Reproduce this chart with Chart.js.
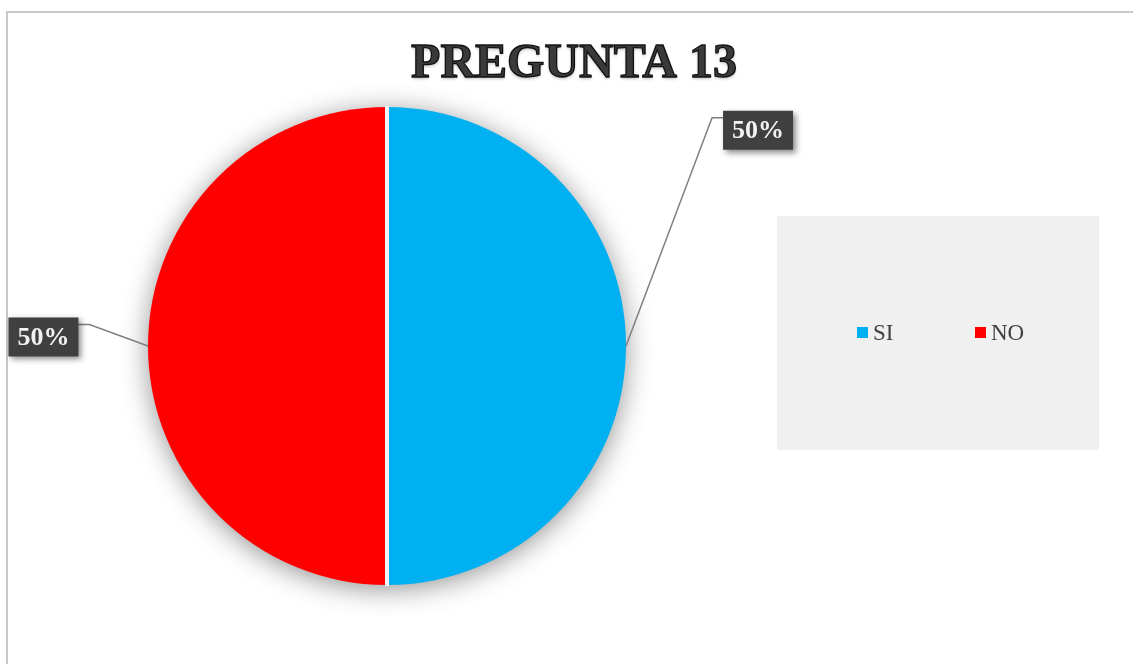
<!DOCTYPE html>
<html>
<head>
<meta charset="utf-8">
<script src="https://cdn.jsdelivr.net/npm/chart.js@4"></script>
<style>
  html,body{margin:0;padding:0;background:#fff;}
  #wrap{position:relative;width:1133px;height:664px;}
</style>
</head>
<body>
<div id="wrap"><canvas id="c" width="1133" height="664"></canvas></div>
<script>
const titleText = 'PREGUNTA 13';
const categories = ['SI', 'NO'];
const values = [50, 50];
const percentLabels = ['50%', '50%'];
const colors = ['#00B0F0', '#FF0000'];

const frame = {
  id: 'frame',
  beforeDraw(chart) {
    const ctx = chart.ctx;
    ctx.save();
    ctx.fillStyle = '#ffffff';
    ctx.fillRect(0, 0, chart.width, chart.height);
    ctx.strokeStyle = '#c8c8c8';
    ctx.lineWidth = 2;
    ctx.beginPath();
    ctx.moveTo(7, chart.height);
    ctx.lineTo(7, 12);
    ctx.lineTo(chart.width, 12);
    ctx.stroke();
    // title
    ctx.font = 'bold 48px "Liberation Serif", "Times New Roman", serif';
    ctx.textAlign = 'center';
    ctx.textBaseline = 'alphabetic';
    ctx.shadowColor = 'rgba(0,0,0,0.25)';
    ctx.shadowBlur = 3;
    ctx.shadowOffsetY = 2;
    ctx.fillStyle = '#3a3a3a';
    ctx.fillText(titleText, 574, 77);
    ctx.shadowColor = 'transparent';
    ctx.lineWidth = 1.3;
    ctx.strokeStyle = '#111111';
    ctx.strokeText(titleText, 574, 77);
    ctx.restore();
  },
  beforeDatasetsDraw(chart) {
    const arc = chart.getDatasetMeta(0).data[0];
    if (!arc) return;
    const ctx = chart.ctx;
    ctx.save();
    ctx.shadowColor = 'rgba(0,0,0,0.45)';
    ctx.shadowBlur = 28;
    ctx.shadowOffsetY = 4;
    ctx.fillStyle = '#d8d8d8';
    ctx.beginPath();
    ctx.arc(arc.x, arc.y, arc.outerRadius - 1, 0, Math.PI * 2);
    ctx.fill();
    ctx.restore();
  },
  afterDatasetsDraw(chart) {
    const ctx = chart.ctx;
    const meta = chart.getDatasetMeta(0);
    ctx.save();
    ctx.strokeStyle = '#f4f4f4';
    ctx.lineWidth = 4;
    meta.data.forEach((arc) => {
      ctx.beginPath();
      ctx.moveTo(arc.x, arc.y);
      ctx.lineTo(arc.x + Math.cos(arc.startAngle) * (arc.outerRadius + 1),
                 arc.y + Math.sin(arc.startAngle) * (arc.outerRadius + 1));
      ctx.stroke();
    });
    ctx.restore();
  },
  afterDraw(chart) {
    const ctx = chart.ctx;
    const meta = chart.getDatasetMeta(0);
    ctx.save();
    // data labels with leader lines
    meta.data.forEach((arc, i) => {
      const mid = (arc.startAngle + arc.endAngle) / 2;
      const r = arc.outerRadius;
      const px = arc.x + Math.cos(mid) * r;
      const py = arc.y + Math.sin(mid) * r;
      const right = Math.cos(mid) >= 0;
      let elbowX, elbowY, endX, boxX, boxY;
      const bw = 70, bh = 39;
      if (right) {
        elbowX = arc.x + r * 1.36; elbowY = arc.y - r * 0.955;
        endX = elbowX + 11;
        boxX = endX; boxY = elbowY - 7;
      } else {
        elbowX = arc.x - r * 1.245; elbowY = arc.y - r * 0.09;
        endX = elbowX - 11;
        boxX = endX - bw; boxY = elbowY - 7;
      }
      ctx.strokeStyle = '#808080';
      ctx.lineWidth = 1.5;
      ctx.beginPath();
      ctx.moveTo(px, py);
      ctx.lineTo(elbowX, elbowY);
      ctx.lineTo(endX, elbowY);
      ctx.stroke();
      ctx.save();
      ctx.shadowColor = 'rgba(0,0,0,0.45)';
      ctx.shadowBlur = 6;
      ctx.shadowOffsetX = 3;
      ctx.shadowOffsetY = 3;
      ctx.fillStyle = '#404040';
      ctx.fillRect(boxX, boxY, bw, bh);
      ctx.restore();
      ctx.fillStyle = '#f2f2f2';
      ctx.font = 'bold 26px "Liberation Serif", "Times New Roman", serif';
      ctx.textAlign = 'center';
      ctx.textBaseline = 'middle';
      ctx.fillText(percentLabels[i], boxX + bw / 2, boxY + bh / 2 + 1);
    });
    // legend box
    ctx.fillStyle = '#f0f0f0';
    ctx.fillRect(777, 216, 322, 234);
    const items = chart.data.labels;
    const xs = [857, 975];
    ctx.font = '23px "Liberation Serif", "Times New Roman", serif';
    ctx.textAlign = 'left';
    ctx.textBaseline = 'middle';
    items.forEach((lab, i) => {
      ctx.fillStyle = chart.data.datasets[0].backgroundColor[i];
      ctx.fillRect(xs[i], 327, 11, 11);
      ctx.fillStyle = '#404040';
      ctx.fillText(lab, xs[i] + 16, 334);
    });
    ctx.restore();
  }
};

new Chart(document.getElementById('c'), {
  type: 'pie',
  data: {
    labels: categories,
    datasets: [{
      data: values,
      backgroundColor: colors,
      borderWidth: 0
    }]
  },
  options: {
    responsive: false,
    animation: false,
    events: [],
    layout: { padding: { left: 147, right: 506, top: 107, bottom: 79 } },
    plugins: {
      legend: { display: false },
      title: { display: false },
      tooltip: { enabled: false }
    }
  },
  plugins: [frame]
});
</script>
</body>
</html>
